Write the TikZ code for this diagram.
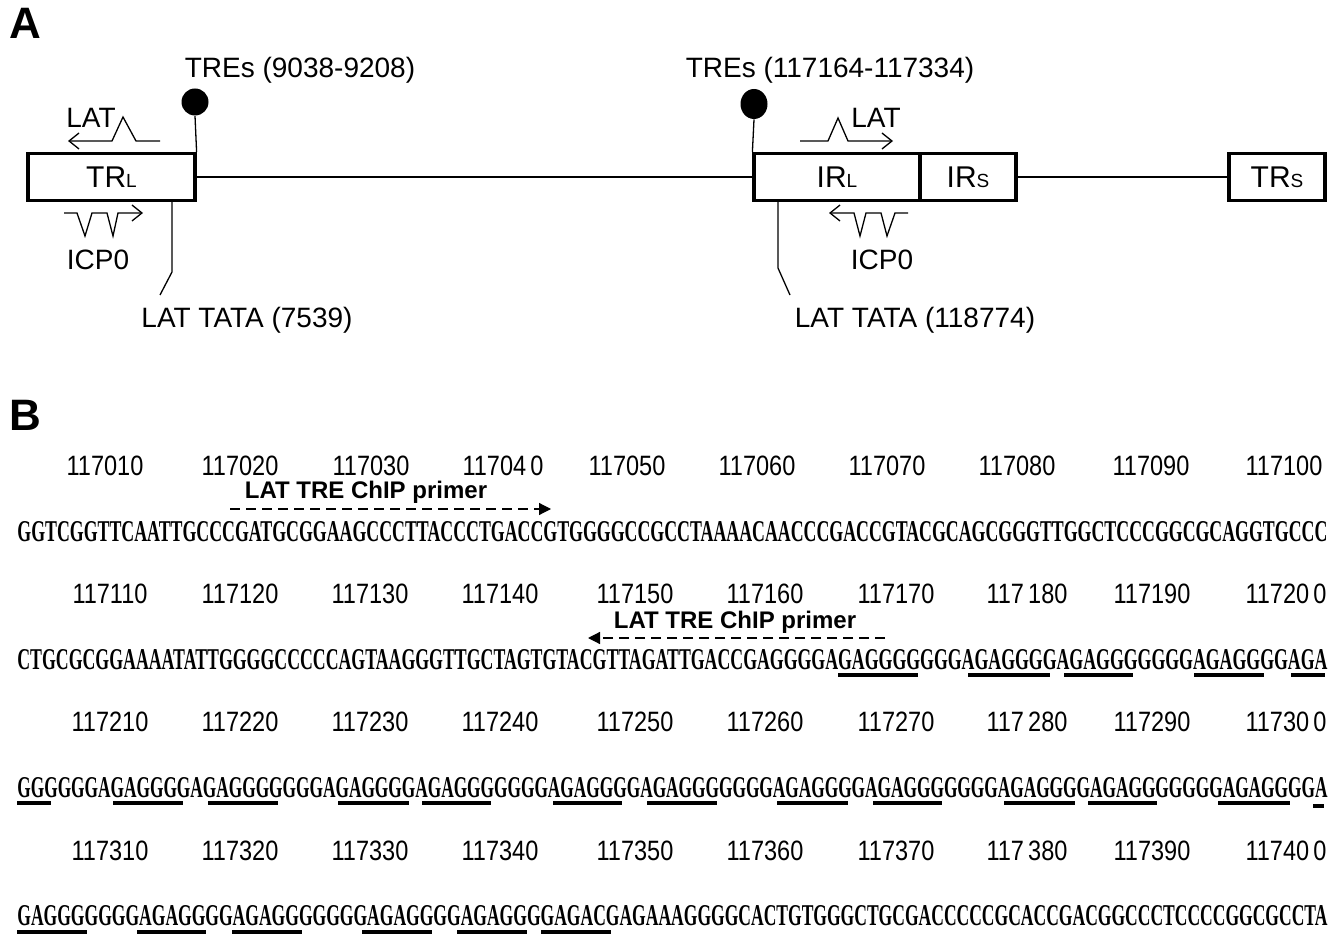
\documentclass[tikz,border=0pt]{standalone}
\usepackage{fontspec}
\setmainfont{Liberation Sans}
\newfontfamily\seqfont{Liberation Serif}
\usepackage{graphicx}
\usetikzlibrary{arrows.meta,shapes.geometric}
\newcommand{\smsub}[1]{{\fontsize{9.5}{9.5}\selectfont #1}}
\newcommand{\posn}[1]{\scalebox{0.84}[1]{#1}}
\newcommand{\seqline}[1]{\resizebox{655pt}{10pt}{\seqfont\bfseries #1}}
\newcommand{\gp}{\hspace{2.5pt}}
\begin{document}
\begin{tikzpicture}[x=0.5pt,y=-0.5pt,
  box/.style={draw,line width=1.6pt,rectangle,inner sep=0pt,minimum height=23.5pt,font=\fontsize{15}{15}\selectfont},
  wire/.style={line width=0.65pt},
  lbl/.style={font=\fontsize{14}{14}\selectfont,inner sep=0pt},
  posl/.style={font=\fontsize{14}{14}\selectfont,inner sep=0pt},
  primer/.style={font=\bfseries\fontsize{12}{12}\selectfont,inner sep=0pt},
  dot/.style={ellipse,fill=black,inner sep=0pt},
  openarr/.style={line width=0.65pt,-{Straight Barb[length=5pt,width=8pt]}},
  pr/.style={dash pattern=on 5pt off 3pt,line width=0.6pt,-{Triangle[length=6pt,width=6pt]}},
  ul/.style={line width=2pt},
  panel/.style={font=\bfseries\fontsize{22}{22}\selectfont,inner sep=0pt},
  seq/.style={anchor=base west,inner sep=0pt}
]
\useasboundingbox (0,0) rectangle (1339,941);

% ---------------- Panel A ----------------
\node[panel] (pA) at (25,23) {A};

\node[box,minimum width=83.5pt] (trl) at (111.5,177) {TR\smsub{L}};
\node[box,minimum width=83pt] (irl) at (837,177) {IR\smsub{L}};
\node[box,minimum width=48pt] (irs) at (968,177) {IR\smsub{S}};
\node[box,minimum width=48pt] (trs) at (1277,177) {TR\smsub{S}};

\draw[wire] (trl.east) -- (irl.west);
\draw[wire] (irs.east) -- (trs.west);

% TRE lollipops
\node[dot,minimum width=13.5pt,minimum height=13.5pt] (d1) at (195,102) {};
\node[dot,minimum width=13.5pt,minimum height=15pt] (d2) at (754,104) {};
\draw[wire] (d1.south) -- (trl.north east);
\draw[wire] (d2.south) -- (irl.north west);
\node[lbl] (tre1) at (300,70) {TREs (9038-9208)};
\node[lbl] (tre2) at (830,70) {TREs (117164-117334)};

% LAT transcripts
\draw[openarr] (160,141) -- (136,141) -- (123,117) -- (112,141) -- (68,141);
\node[lbl] (lat1) at (91,118) {LAT};
\draw[openarr] (800,141) -- (828,141) -- (838,118) -- (848,141) -- (893,141);
\node[lbl] (lat2) at (876,118) {LAT};

% ICP0 transcripts
\draw[openarr] (64,213) -- (77,213) -- (85,236) -- (92,213) -- (107,213) -- (113,236) -- (118,213) -- (143,213);
\node[lbl] (icp1) at (98,260) {ICP0};
\draw[openarr] (908,213) -- (895,213) -- (887,236) -- (881,213) -- (866,213) -- (860,236) -- (854,213) -- (829,213);
\node[lbl] (icp2) at (882,260) {ICP0};

% LAT TATA
\coordinate (ta1) at (172,200);
\coordinate (tb1) at (172,272);
\coordinate (tc1) at (160,295);
\draw[wire] (ta1) -- (tb1) -- (tc1);
\node[lbl] (tata1) at (247,320) {LAT TATA (7539)};
\coordinate (ta2) at (778,201);
\coordinate (tb2) at (778,268);
\coordinate (tc2) at (790,295);
\draw[wire] (ta2) -- (tb2) -- (tc2);
\node[lbl] (tata2) at (915,320) {LAT TATA (118774)};

% ---------------- Panel B ----------------
\node[panel] (pB) at (25,415) {B};

% position rows
\foreach \x/\t in {105/117010, 240/117020, 371/117030, 503/{11704\gp0}, 627/117050, 757/117060, 887/117070, 1017/117080, 1151/117090, 1284/117100}
  \node[posl] (ra\x) at (\x,466) {\posn{\t}};
\foreach \x/\t in {110/117110, 240/117120, 370/117130, 500/117140, 635/117150, 765/117160, 896/117170, 1027/{117\gp180}, 1152/117190, 1286/{11720\gp0}}
  \node[posl] (rb\x) at (\x,594) {\posn{\t}};
\foreach \x/\t in {110/117210, 240/117220, 370/117230, 500/117240, 635/117250, 765/117260, 896/117270, 1027/{117\gp280}, 1152/117290, 1286/{11730\gp0}}
  \node[posl] (rc\x) at (\x,722) {\posn{\t}};
\foreach \x/\t in {110/117310, 240/117320, 370/117330, 500/117340, 635/117350, 765/117360, 896/117370, 1027/{117\gp380}, 1152/117390, 1286/{11740\gp0}}
  \node[posl] (rd\x) at (\x,851) {\posn{\t}};

% primers
\node[primer] (p1) at (366,492) {LAT TRE ChIP primer};
\coordinate (p1a) at (230,509);
\coordinate (p1b) at (551,509);
\draw[pr] (p1a) -- (p1b);
\node[primer] (p2) at (735,622) {LAT TRE ChIP primer};
\coordinate (p2a) at (885,638);
\coordinate (p2b) at (588,638);
\draw[pr] (p2a) -- (p2b);

% sequences
\node[seq] (s1) at (17,541) {\seqline{GGTCGGTTCAATTGCCCGATGCGGAAGCCCTTACCCTGACCGTGGGGCCGCCTAAAACAACCCGACCGTACGCAGCGGGTTGGCTCCCGGCGCAGGTGCCC}};
\node[seq] (s2) at (17,669) {\seqline{CTGCGCGGAAAATATTGGGGCCCCCAGTAAGGGTTGCTAGTGTACGTTAGATTGACCGAGGGGAGAGGGGGGGAGAGGGGAGAGGGGGGGAGAGGGGAGA}};
\node[seq] (s3) at (17,797) {\seqline{GGGGGGAGAGGGGAGAGGGGGGGAGAGGGGAGAGGGGGGGAGAGGGGAGAGGGGGGGAGAGGGGAGAGGGGGGGAGAGGGGAGAGGGGGGGAGAGGGGA}};
\node[seq] (s4) at (17,925) {\seqline{GAGGGGGGGAGAGGGGAGAGGGGGGGAGAGGGGAGAGGGGAGACGAGAAAGGGGCACTGTGGGCTGCGACCCCCGCACCGACGGCCCTCCCCGGCGCCTA}};

% underlines
\foreach \a/\b in {838/918, 968/1050, 1064/1133, 1194/1264, 1291/1325}
  \draw[ul] (\a,675) -- (\b,675);
\foreach \a/\b in {17/51, 113/183, 208/278, 338/409, 422/491, 553/622, 647/717, 777/848, 873/942, 1004/1075, 1088/1157, 1218/1290}
  \draw[ul] (\a,803) -- (\b,803);
\draw[ul] (1313,806) -- (1324,806);
\foreach \a/\b in {17/87, 137/206, 232/302, 362/432, 457/527, 541/611}
  \draw[ul] (\a,932) -- (\b,932);
\end{tikzpicture}
\end{document}
